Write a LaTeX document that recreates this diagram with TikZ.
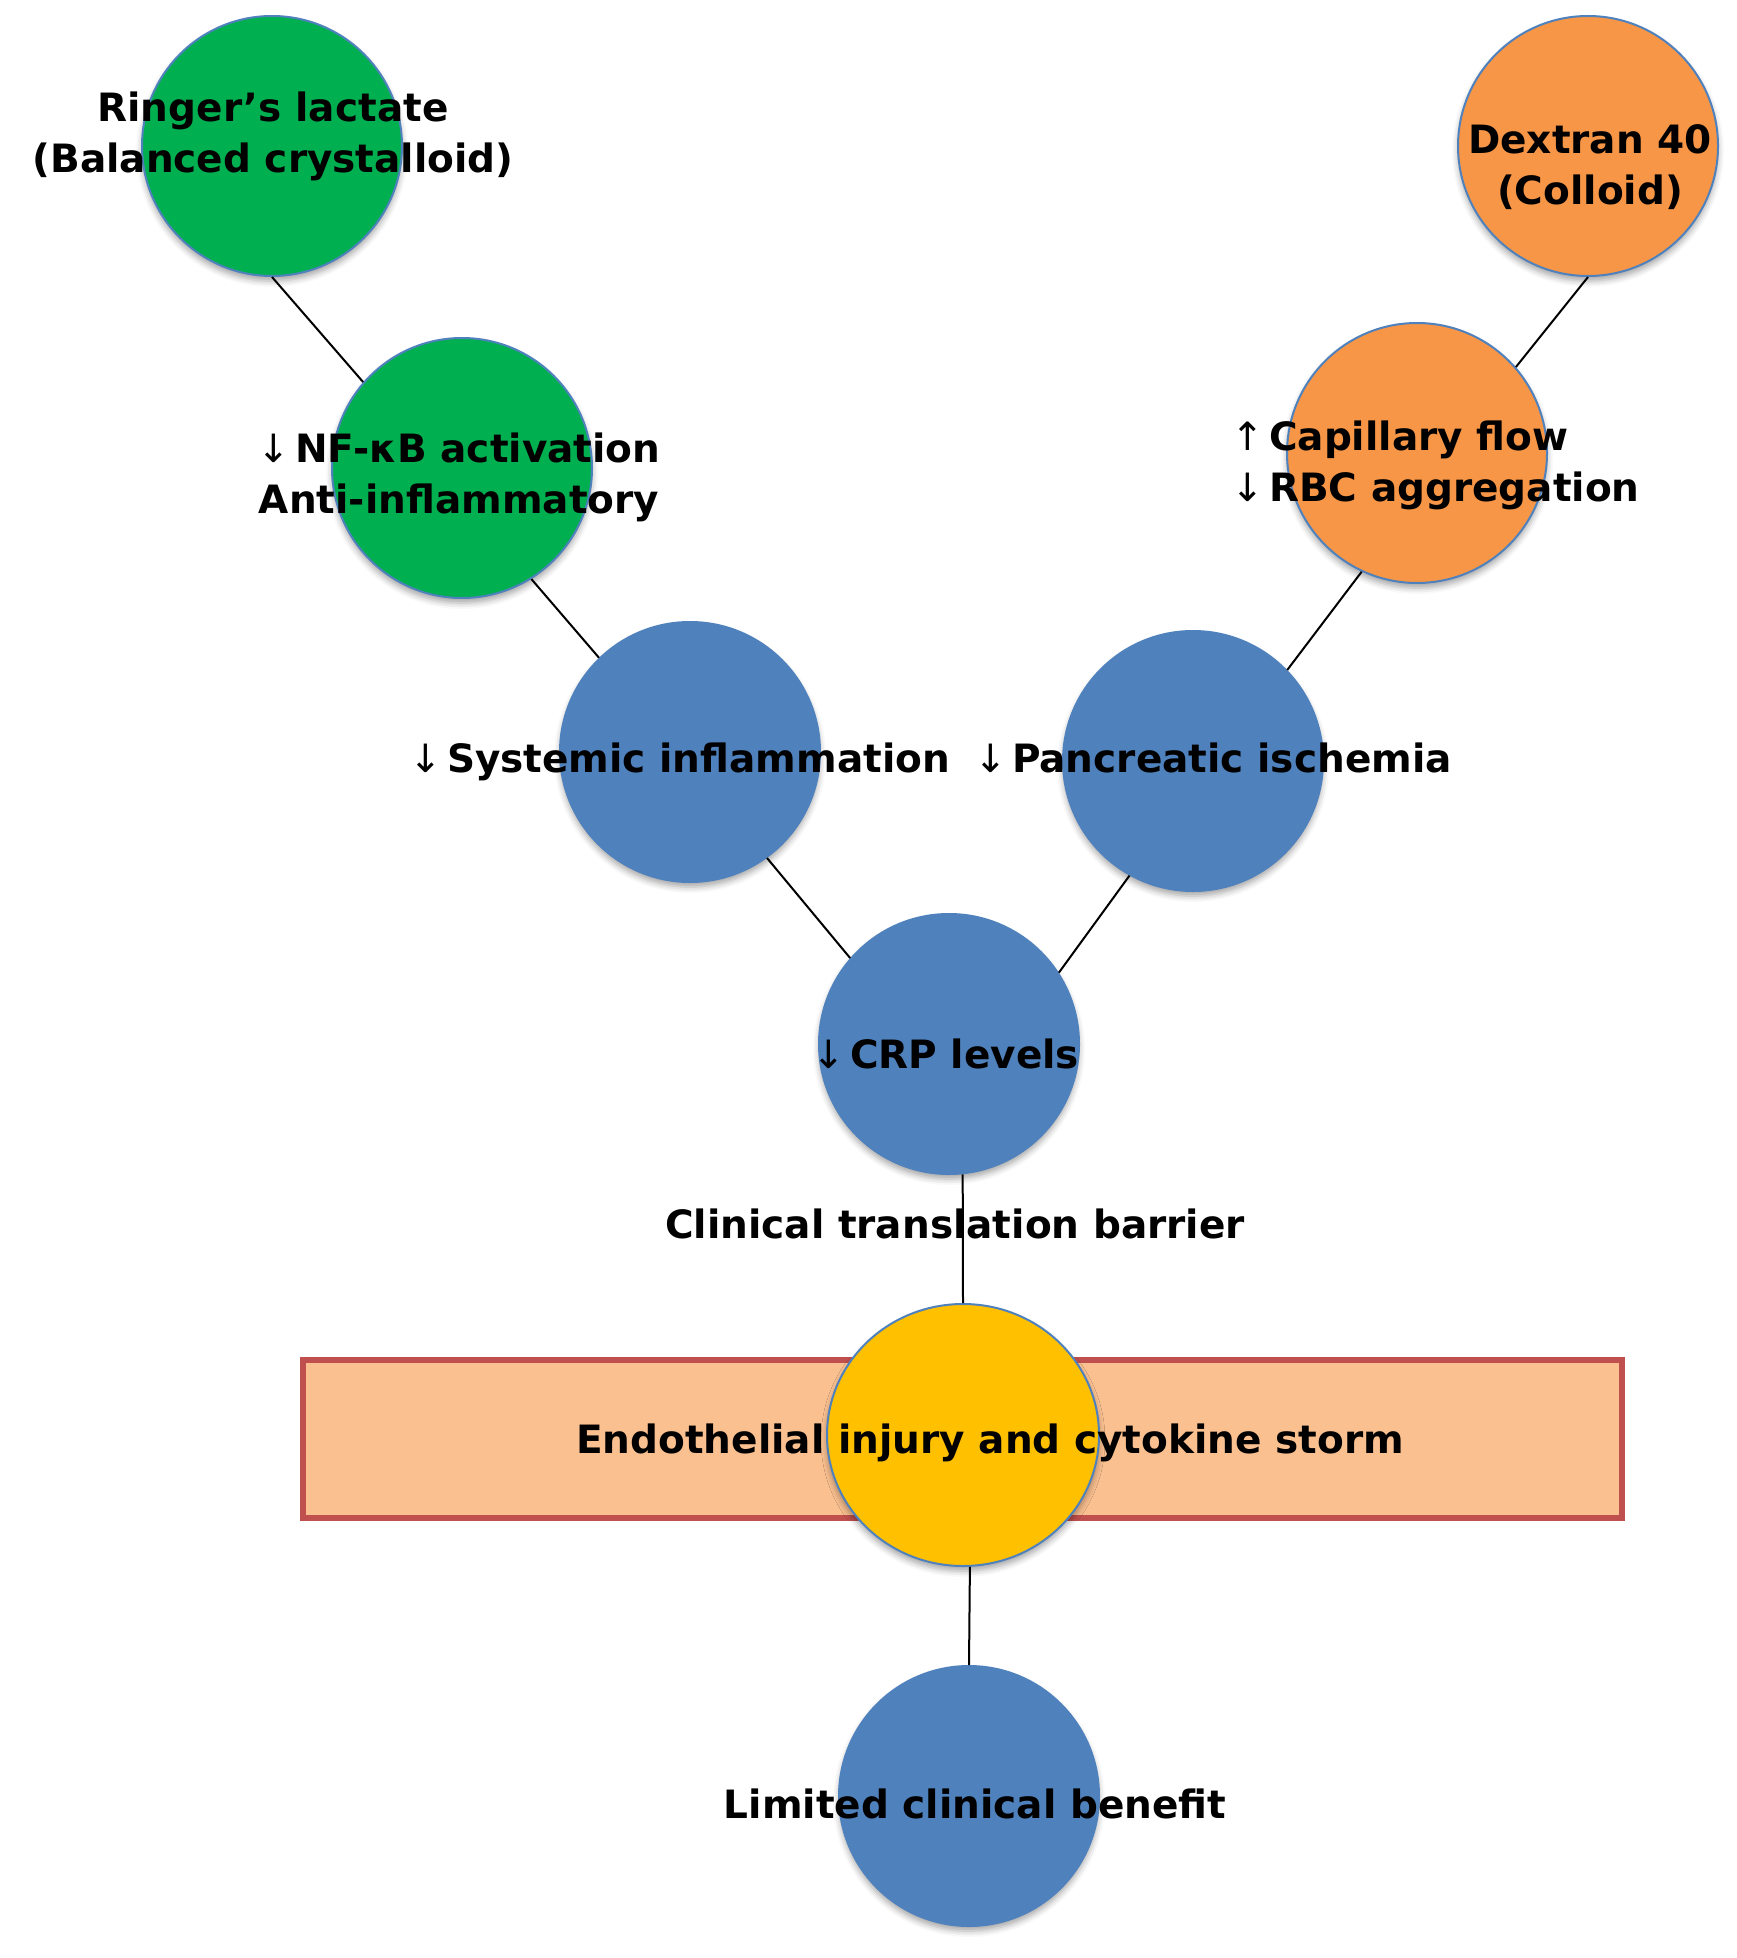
\documentclass[tikz,border=0pt]{standalone}
\usepackage{fontspec}
\setmainfont{DejaVu Sans}
\usetikzlibrary{shapes.geometric,shadows.blur}
\definecolor{cgreen}{HTML}{00B050}
\definecolor{corange}{HTML}{F79646}
\definecolor{cblue}{HTML}{4F81BD}
\definecolor{cyellow}{HTML}{FFC000}
\definecolor{bandfill}{HTML}{FAC090}
\definecolor{bandline}{HTML}{C0504D}
\tikzset{
	bub/.style={circle,minimum size=130pt,inner sep=0pt,line width=1pt,draw=cblue,
		blur shadow={shadow xshift=0pt,shadow yshift=-2.5pt,shadow blur radius=3pt,shadow opacity=35}},
	band/.style={rectangle,minimum width=659.5pt,minimum height=79pt,inner sep=0pt,
		line width=3pt,draw=bandline,fill=bandfill},
	lbl/.style={font=\bfseries\fontsize{19.5}{25.5}\selectfont,inner sep=0pt},
	link/.style={line width=1pt,black}
}
\newcommand{\dnarr}{{\mdseries\char"2193}\hspace{2.5pt}}
\newcommand{\uparr}{{\mdseries\char"2191}\hspace{2.5pt}}
\begin{document}
\begin{tikzpicture}[x=0.5pt,y=-0.5pt]
	\useasboundingbox (0,0) rectangle (1736,1958);
	\node[band] (band) at (962.5,1439) {};
	\node[bub,fill=cgreen] (ring) at (272,146) {};
	\node[bub,fill=cgreen] (nfkb) at (462,468) {};
	\node[bub,fill=corange] (dex) at (1588,146) {};
	\node[bub,fill=corange] (capfl) at (1417,453) {};
	\node[bub,fill=cblue] (sysinf) at (690,752) {};
	\node[bub,fill=cblue] (panc) at (1193,761) {};
	\node[bub,fill=cblue] (crp) at (949,1044) {};
	\node[bub,ellipse,minimum width=136pt,minimum height=131pt,fill=cyellow] (endo) at (963,1435) {};
	\node[bub,fill=cblue] (limb) at (969,1796) {};

	\node[lbl,align=center,anchor=base] (ringtxt) at (273,173) {Ringer’s lactate\\(Balanced crystalloid)};
	\node[lbl,align=center,anchor=base] (nfkbtxt) at (459,513) {\dnarr NF-κB activation\\Anti-inflammatory};
	\node[lbl,align=center,anchor=base] (dextxt) at (1590,205) {Dextran 40\\(Colloid)};
	\node[lbl,align=left,anchor=base west] (capfltxt) at (1231,501) {\uparr Capillary flow\\\dnarr RBC aggregation};
	\node[lbl,anchor=base west] (sysinftxt) at (409,772) {\dnarr Systemic inflammation};
	\node[lbl,anchor=base west] (panctxt) at (974,772) {\dnarr Pancreatic ischemia};
	\node[lbl,anchor=base west] (crptxt) at (812,1068) {\dnarr CRP levels};
	\node[lbl,anchor=base] (barriertxt) at (955,1238) {Clinical translation barrier};
	\node[lbl,anchor=base] (endotxt) at (990,1453) {Endothelial injury and cytokine storm};
	\node[lbl,anchor=base] (limbtxt) at (975,1818) {Limited clinical benefit};

	\draw[link] (ring.south) -- (nfkb.139);
	\draw[link] (nfkb.-58) -- (sysinf.134);
	\draw[link] (dex.south) -- (capfl.41);
	\draw[link] (capfl.-115) -- (panc.44);
	\draw[link] (sysinf.-54) -- (crp.139);
	\draw[link] (panc.-119) -- (crp.33);
	\draw[link] (crp.-84) -- (endo.north);
	\draw[link] (endo.-87) -- (limb.north);
\end{tikzpicture}
\end{document}
